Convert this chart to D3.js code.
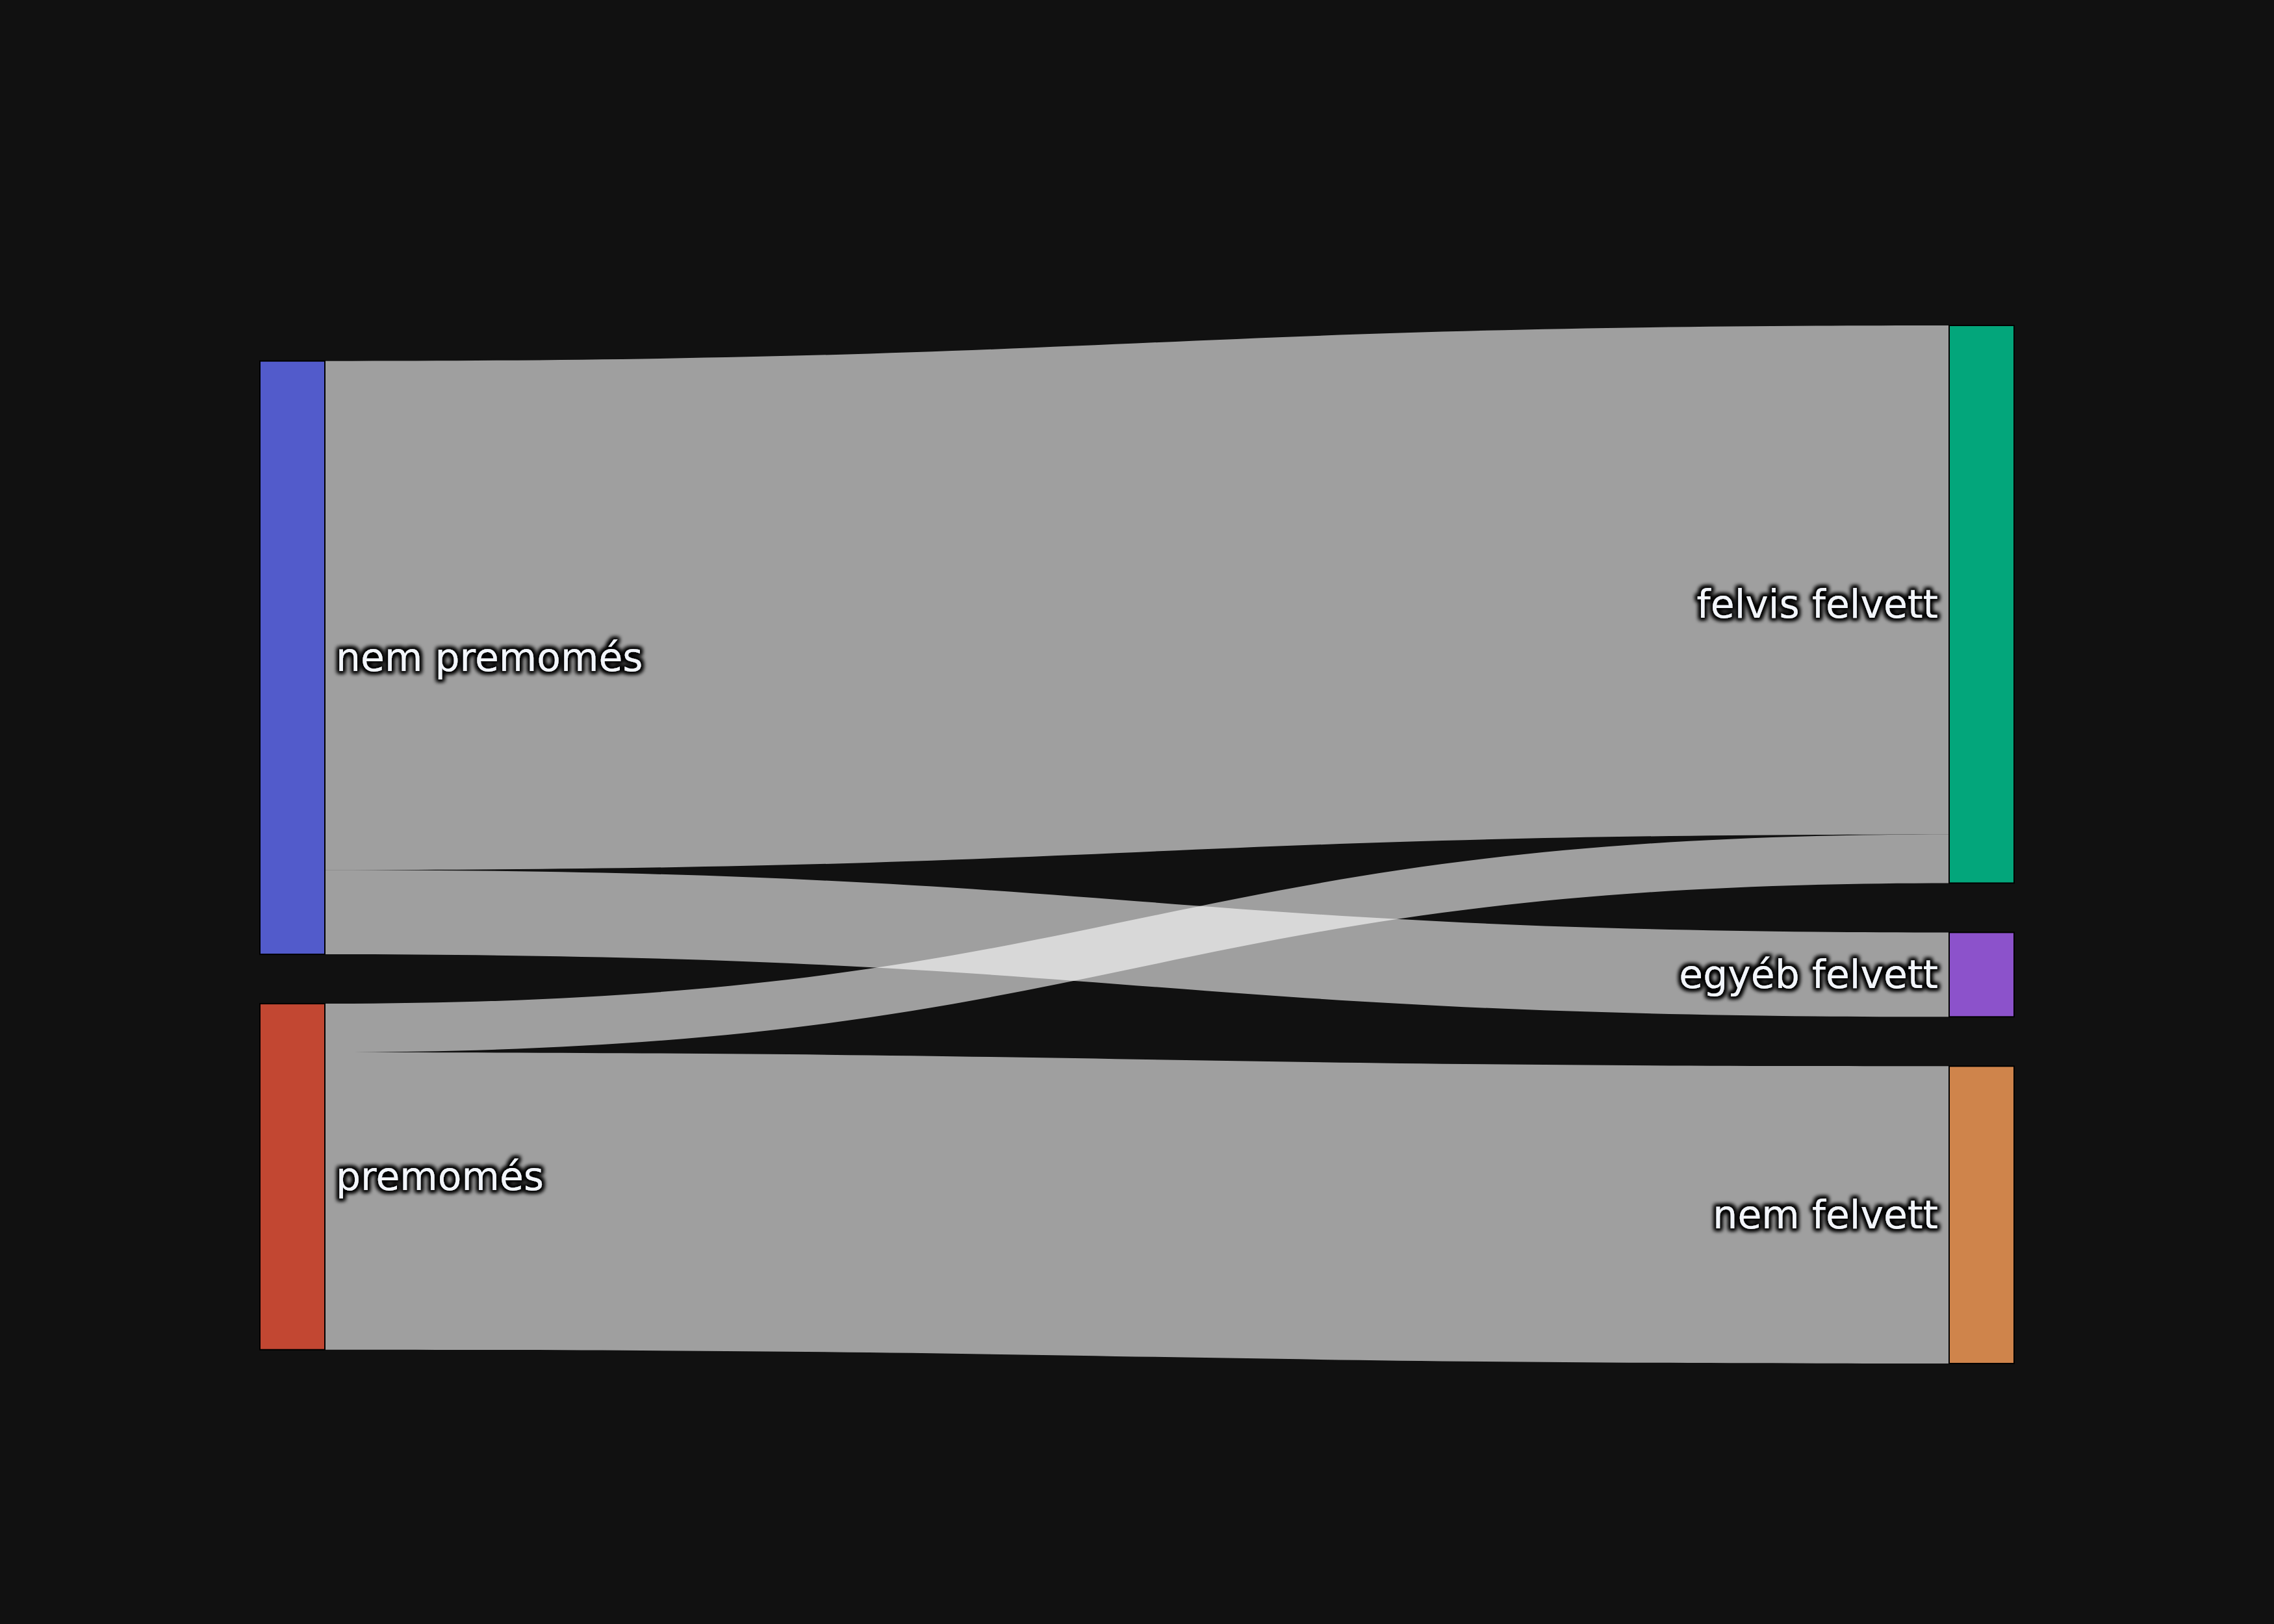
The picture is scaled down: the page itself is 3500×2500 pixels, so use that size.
<!DOCTYPE html>
<html>
<head>
<meta charset="utf-8">
<script src="https://cdn.jsdelivr.net/npm/d3@7"></script>
<style>
  html, body { margin: 0; padding: 0; background: #111111; }
  svg { display: block; }
</style>
</head>
<body>
<svg id="chart" width="3500" height="2500"></svg>
<script>
// ---- data ----
const nodeNames  = ["nem premomés", "premomés", "felvis felvett", "egyéb felvett", "nem felvett"];
const nodeColumn = [0, 0, 1, 1, 1];
const linkSource = [0, 0, 1, 1];
const linkTarget = [2, 3, 2, 4];
const linkValue  = [784, 130, 75, 458];

// ---- styles / layout ----
const nodeColors = ["#636efa", "#EF553B", "#00cc96", "#ab63fa", "#FFA15A"];
const W = 3500, H = 2500;
const extentTop = 501, extentBottom = 2099;
const nodePad = 76, nodeWidth = 100;
const columnSlack = [0.72, 0];   // share of free vertical space above each column

const svg = d3.select("#chart");
svg.append("rect").attr("width", W).attr("height", H).attr("fill", "#111111");

// halo filter for labels
const defs = svg.append("defs");
const f = defs.append("filter").attr("id", "halo").attr("x", "-10%").attr("y", "-40%").attr("width", "120%").attr("height", "180%");
f.append("feMorphology").attr("in", "SourceAlpha").attr("operator", "dilate").attr("radius", 3).attr("result", "d");
f.append("feGaussianBlur").attr("in", "d").attr("stdDeviation", 3).attr("result", "b");
f.append("feFlood").attr("flood-color", "#000").attr("flood-opacity", 1).attr("result", "c");
f.append("feComposite").attr("in", "c").attr("in2", "b").attr("operator", "in").attr("result", "s");
const m = f.append("feMerge");
m.append("feMergeNode").attr("in", "s");
m.append("feMergeNode").attr("in", "s");
m.append("feMergeNode").attr("in", "SourceGraphic");

// ---- build nodes ----
const nodes = nodeNames.map((name, i) => ({ name, i, col: nodeColumn[i], inV: 0, outV: 0 }));
const links = linkValue.map((v, i) => ({ source: nodes[linkSource[i]], target: nodes[linkTarget[i]], value: v }));
links.forEach(l => { l.source.outV += l.value; l.target.inV += l.value; });
nodes.forEach(n => n.value = Math.max(n.inV, n.outV));

const cols = d3.groups(nodes, n => n.col).sort((a, b) => a[0] - b[0]).map(g => g[1]);
const maxTotal = d3.max(cols, c => d3.sum(c, n => n.value));
const maxCount = d3.max(cols, c => c.length);
const ky = d3.scaleLinear().domain([0, maxTotal]).range([0, (extentBottom - extentTop) - (maxCount - 1) * nodePad]);
const xCol = d3.scaleLinear().domain([0, cols.length - 1]).range([400, 3000]);

cols.forEach((c, ci) => {
  const h = d3.sum(c, n => ky(n.value)) + (c.length - 1) * nodePad;
  const free = (extentBottom - extentTop) - h;
  let y = extentTop + free * columnSlack[ci];
  c.forEach(n => {
    n.x0 = xCol(n.col); n.x1 = n.x0 + nodeWidth;
    n.y0 = y; n.y1 = y + ky(n.value);
    y = n.y1 + nodePad;
  });
});

// link offsets
nodes.forEach(n => {
  let so = n.y0;
  links.filter(l => l.source === n).sort((a, b) => a.target.y0 - b.target.y0)
    .forEach(l => { l.sy0 = so; so += ky(l.value); l.sy1 = so; });
  let to = n.y0;
  links.filter(l => l.target === n).sort((a, b) => a.source.y0 - b.source.y0)
    .forEach(l => { l.ty0 = to; to += ky(l.value); l.ty1 = to; });
});

function linkPath(l) {
  const x0 = l.source.x1, x1 = l.target.x0, xm = (x0 + x1) / 2;
  const p = d3.path();
  p.moveTo(x0, l.sy0);
  p.bezierCurveTo(xm, l.sy0, xm, l.ty0, x1, l.ty0);
  p.lineTo(x1, l.ty1);
  p.bezierCurveTo(xm, l.ty1, xm, l.sy1, x0, l.sy1);
  p.closePath();
  return p.toString();
}

svg.append("g").selectAll("path").data(links).join("path")
  .attr("d", linkPath)
  .attr("fill", "rgba(255,255,255,0.6)");

svg.append("g").selectAll("rect").data(nodes).join("rect")
  .attr("x", d => d.x0).attr("y", d => d.y0)
  .attr("width", d => d.x1 - d.x0).attr("height", d => d.y1 - d.y0)
  .attr("fill", d => nodeColors[d.i]).attr("fill-opacity", 0.8)
  .attr("stroke", "#000").attr("stroke-width", 2);

svg.append("g").selectAll("text").data(nodes).join("text")
  .attr("x", d => d.col === 0 ? d.x1 + 17 : d.x0 - 17)
  .attr("y", d => (d.y0 + d.y1) / 2)
  .attr("dy", "0.35em")
  .attr("text-anchor", d => d.col === 0 ? "start" : "end")
  .attr("font-family", "'DejaVu Sans', Verdana, sans-serif")
  .attr("font-size", 60)
  .attr("fill", "#f2f5fa")
  .attr("filter", "url(#halo)")
  .text(d => d.name);
</script>
</body>
</html>
